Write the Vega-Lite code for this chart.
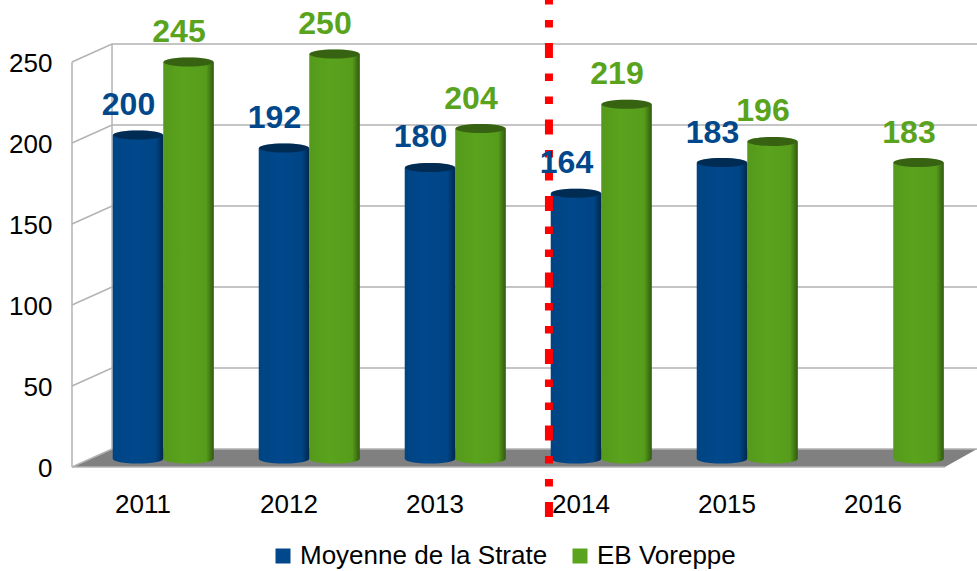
{
"$schema":"https://vega.github.io/schema/vega-lite/v6.json",
"width":905,"height":467,"autosize":"none",
"padding":{"left":72,"top":0,"right":0,"bottom":104},
"background":"white",
"config":{"view":{"stroke":null},"font":"Liberation Sans"},
"datasets":{
"vals":[
{"year":"2011","series":"Moyenne de la Strate","value":200},
{"year":"2011","series":"EB Voreppe","value":245},
{"year":"2012","series":"Moyenne de la Strate","value":192},
{"year":"2012","series":"EB Voreppe","value":250},
{"year":"2013","series":"Moyenne de la Strate","value":180},
{"year":"2013","series":"EB Voreppe","value":204},
{"year":"2014","series":"Moyenne de la Strate","value":164},
{"year":"2014","series":"EB Voreppe","value":219},
{"year":"2015","series":"Moyenne de la Strate","value":183},
{"year":"2015","series":"EB Voreppe","value":196},
{"year":"2016","series":"EB Voreppe","value":183}],
"frame":[
{"g":"0","c":0,"v":0},{"g":"0","c":0.275,"v":11.11},{"g":"0","c":6.22,"v":11.11},
{"g":"50","c":0,"v":50},{"g":"50","c":0.275,"v":61.11},{"g":"50","c":6.22,"v":61.11},
{"g":"100","c":0,"v":100},{"g":"100","c":0.275,"v":111.11},{"g":"100","c":6.22,"v":111.11},
{"g":"150","c":0,"v":150},{"g":"150","c":0.275,"v":161.11},{"g":"150","c":6.22,"v":161.11},
{"g":"200","c":0,"v":200},{"g":"200","c":0.275,"v":211.11},{"g":"200","c":6.22,"v":211.11},
{"g":"250","c":0,"v":250},{"g":"250","c":0.275,"v":261.11},{"g":"250","c":6.22,"v":261.11},
{"g":"left","c":0,"v":0},{"g":"left","c":0,"v":250},
{"g":"back","c":0.275,"v":11.11},{"g":"back","c":0.275,"v":261.11},
{"g":"front","c":0,"v":0},{"g":"front","c":6,"v":0}],
"floor":[{"c":0,"lo":0,"hi":0},{"c":0.275,"lo":0,"hi":11.11},{"c":6,"lo":0,"hi":11.11},{"c":6.22,"lo":11.11,"hi":11.11}]
},
"resolve":{"scale":{"x":"independent","y":"independent"}},
"layer":[
{"layer":[
 {"data":{"name":"floor"},"mark":{"type":"area","fill":"#808080","opacity":1},
  "encoding":{"x":{"field":"c","type":"quantitative","scale":{"domain":[0,6],"range":[0,873],"nice":false,"zero":false},"axis":null},
  "y":{"field":"lo","type":"quantitative","scale":{"domain":[0,250],"range":[467,62],"nice":false},
    "axis":{"title":null,"orient":"left","domain":false,"ticks":false,"grid":false,"values":[0,50,100,150,200,250],"labelFontSize":26,"labelColor":"#000000","labelPadding":20,"labelOffset":1,"labelFont":"Liberation Sans"}},
  "y2":{"field":"hi"}}},
 {"data":{"name":"frame"},"mark":{"type":"line","stroke":"#b3b3b3","strokeWidth":1.5},
  "encoding":{"x":{"field":"c","type":"quantitative"},"y":{"field":"v","type":"quantitative"},"detail":{"field":"g"},"order":{"field":"c"}}}
]},
{"data":{"name":"vals"},
 "encoding":{
  "x":{"field":"year","type":"nominal","scale":{"range":[18.25,894.25],"paddingInner":0.308,"paddingOuter":0.154},
   "axis":{"title":null,"orient":"bottom","domain":false,"ticks":false,"labelAngle":0,"labelFontSize":26,"labelColor":"#000000","labelOffset":-20.25,"labelPadding":24,"labelFont":"Liberation Sans"}},
  "xOffset":{"field":"series","type":"nominal","scale":{"domain":["Moyenne de la Strate","EB Voreppe"],"paddingInner":0,"paddingOuter":0}},
  "y":{"field":"value","type":"quantitative","stack":null,"scale":{"domain":[0,250],"range":[459,54],"nice":false},"axis":null}
 },
 "layer":[
 {"mark":{"type":"point","shape":"M-1,0A1,0.18 0 1 1 1,0A1,0.18 0 1 1 -1,0Z","filled":true,"opacity":1,"size":2500,"strokeWidth":0},
  "encoding":{"y":{"datum":0,"type":"quantitative"},"color":{"field":"series","type":"nominal",
    "scale":{"domain":["Moyenne de la Strate","EB Voreppe"],"range":["#00488b","#5aa31d"]},
    "legend":{"title":null,"orient":"none","legendX":198,"legendY":543,"direction":"horizontal","columns":2,"symbolType":"square","symbolSize":225,"symbolStrokeWidth":0,"symbolOpacity":1,"labelFontSize":26,"labelColor":"#000000","labelFont":"Liberation Sans","columnPadding":19,"labelOffset":4,"labelLimit":400}}}},
 {"mark":{"type":"point","shape":"M-1,0A1,0.18 0 1 1 1,0A1,0.18 0 1 1 -1,0Z","filled":true,"opacity":1,"size":2500,"strokeWidth":0,
   "fill":{"gradient":"linear","x1":0,"x2":1,"y1":0,"y2":0,"stops":[{"offset":0,"color":"rgba(0,0,0,0.06)"},{"offset":0.4,"color":"rgba(0,0,0,0)"},{"offset":0.85,"color":"rgba(0,0,0,0.04)"},{"offset":1,"color":"rgba(0,0,0,0.45)"}]}},
  "encoding":{"y":{"datum":0,"type":"quantitative"}}},
 {"mark":{"type":"bar","opacity":1},
  "encoding":{"y2":{"datum":0},
   "color":{"field":"series","type":"nominal",
    "scale":{"domain":["Moyenne de la Strate","EB Voreppe"],"range":["#00488b","#5aa31d"]},
    "legend":{"title":null,"orient":"none","legendX":198,"legendY":543,"direction":"horizontal","columns":2,"symbolType":"square","symbolSize":225,"symbolStrokeWidth":0,"symbolOpacity":1,"labelFontSize":26,"labelColor":"#000000","labelFont":"Liberation Sans","columnPadding":19,"labelOffset":4,"labelLimit":400}}}},
 {"mark":{"type":"bar","opacity":1,
   "fill":{"gradient":"linear","x1":0,"x2":1,"y1":0,"y2":0,"stops":[{"offset":0,"color":"rgba(0,0,0,0.06)"},{"offset":0.4,"color":"rgba(0,0,0,0)"},{"offset":0.85,"color":"rgba(0,0,0,0.04)"},{"offset":1,"color":"rgba(0,0,0,0.45)"}]}},
  "encoding":{"y2":{"datum":0}}},
 {"mark":{"type":"point","shape":"M-1,0A1,0.18 0 1 1 1,0A1,0.18 0 1 1 -1,0Z","filled":true,"opacity":1,"size":2500,"strokeWidth":0},
  "encoding":{"color":{"field":"series","type":"nominal",
    "legend":{"title":null,"orient":"none","legendX":198,"legendY":543,"direction":"horizontal","columns":2,"symbolType":"square","symbolSize":225,"symbolStrokeWidth":0,"symbolOpacity":1,"labelFontSize":26,"labelColor":"#000000","labelFont":"Liberation Sans","columnPadding":19,"labelOffset":4,"labelLimit":400}}}},
 {"mark":{"type":"point","shape":"M-1,0A1,0.18 0 1 1 1,0A1,0.18 0 1 1 -1,0Z","filled":true,"opacity":0.4,"size":2500,"strokeWidth":0,"fill":"#000000"}}
 ]},
{"data":{"values":[{"c":3.278,"a":-30.9,"b":288.3}]},
 "mark":{"type":"rule","stroke":"#ff0000","strokeWidth":8,"strokeDash":[15,15.5,7.5,15.5,7.5,15.5]},
 "encoding":{"x":{"field":"c","type":"quantitative","scale":{"domain":[0,6],"range":[0,873],"nice":false,"zero":false},"axis":null},
  "y":{"field":"a","type":"quantitative","scale":{"domain":[0,250],"range":[467,62],"nice":false},"axis":null},"y2":{"field":"b"}}},
{"data":{"name":"vals"},
 "mark":{"type":"text","font":"Liberation Sans","fontWeight":"bold","fontSize":32,"dx":-9.5,"dy":-30,"baseline":"middle"},
 "encoding":{
  "x":{"field":"year","type":"nominal","scale":{"range":[18.25,894.25],"paddingInner":0.308,"paddingOuter":0.154},"axis":null},
  "xOffset":{"field":"series","type":"nominal","scale":{"domain":["Moyenne de la Strate","EB Voreppe"],"paddingInner":0,"paddingOuter":0}},
  "y":{"field":"value","type":"quantitative","scale":{"domain":[0,250],"range":[459,54],"nice":false},"axis":null},
  "text":{"field":"value","type":"quantitative"},
  "color":{"field":"series","type":"nominal",
    "legend":{"title":null,"orient":"none","legendX":198,"legendY":543,"direction":"horizontal","columns":2,"symbolType":"square","symbolSize":225,"symbolStrokeWidth":0,"symbolOpacity":1,"labelFontSize":26,"labelColor":"#000000","labelFont":"Liberation Sans","columnPadding":19,"labelOffset":4,"labelLimit":400}}}}
]
}
